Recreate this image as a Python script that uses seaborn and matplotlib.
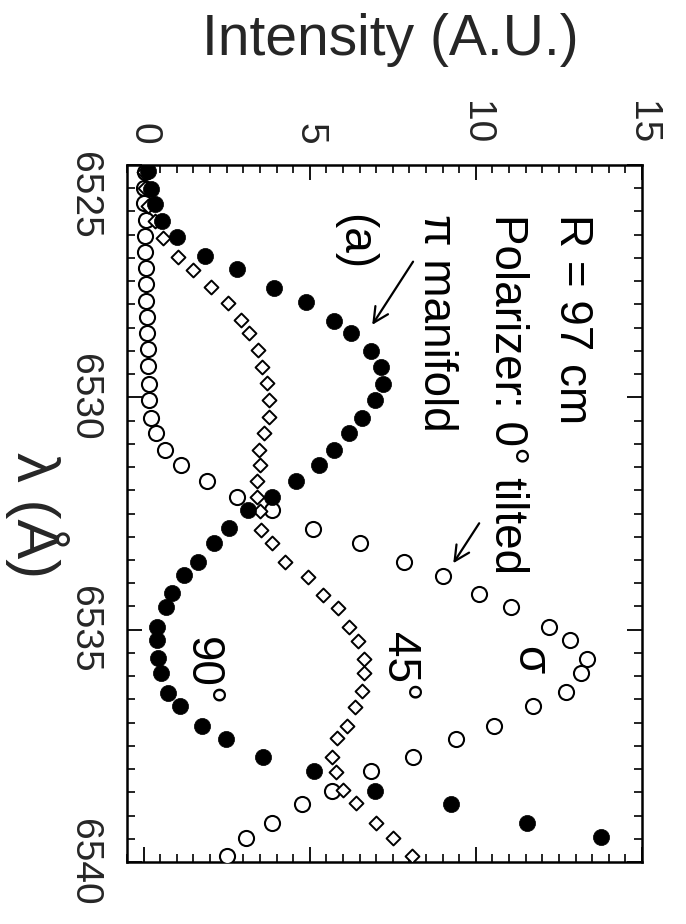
import numpy as np
import pandas as pd
import matplotlib
matplotlib.use("Agg")
import matplotlib.pyplot as plt
from matplotlib.ticker import MultipleLocator, FixedLocator
from matplotlib.transforms import ScaledTranslation
import seaborn as sns

# ---------------- data ----------------
# polarizer 0 deg (filled circles)
wl_0 = [6525.12, 6525.52, 6525.84, 6526.21, 6526.55, 6526.96, 6527.24, 6527.64,
        6527.95, 6528.36, 6528.62, 6529.01, 6529.34, 6529.72, 6530.06, 6530.44,
        6530.77, 6531.13, 6531.46, 6531.81, 6532.14, 6532.42, 6532.82, 6533.14,
        6533.54, 6533.83, 6534.22, 6534.51, 6534.94, 6535.22, 6535.62, 6535.94,
        6536.36, 6536.65, 6537.07, 6537.36, 6537.75, 6538.04, 6538.48, 6538.76,
        6539.17, 6539.47]
int_0 = [0.12, 0.23, 0.33, 0.56, 1.01, 1.85, 2.81, 3.93, 4.88, 5.73, 6.23, 6.85,
         7.13, 7.19, 6.96, 6.57, 6.18, 5.73, 5.28, 4.60, 3.87, 3.14, 2.58, 2.13,
         1.63, 1.23, 0.84, 0.67, 0.39, 0.40, 0.42, 0.51, 0.74, 1.11, 1.76, 2.49,
         3.60, 5.12, 6.96, 9.25, 11.55, 13.78]

# polarizer 90 deg (open circles)
wl_90 = [6525.14, 6525.50, 6525.82, 6526.18, 6526.53, 6526.88, 6527.22, 6527.57,
         6527.92, 6528.27, 6528.62, 6528.97, 6529.32, 6529.72, 6530.06, 6530.44,
         6530.77, 6531.13, 6531.46, 6531.81, 6532.14, 6532.43, 6532.83, 6533.14,
         6533.54, 6533.84, 6534.23, 6534.52, 6534.94, 6535.23, 6535.63, 6535.94,
         6536.35, 6536.65, 6537.07, 6537.35, 6537.74, 6538.05, 6538.47, 6538.75,
         6539.17, 6539.48, 6539.87]
int_90 = [0.05, 0.00, 0.02, 0.06, 0.05, 0.05, 0.06, 0.08, 0.08, 0.10, 0.10, 0.12,
          0.14, 0.17, 0.17, 0.23, 0.37, 0.64, 1.12, 1.91, 2.81, 3.87, 5.10, 6.52,
          7.84, 9.00, 10.08, 11.07, 12.19, 12.84, 13.34, 13.17, 12.72, 11.71,
          10.54, 9.39, 8.11, 6.85, 5.68, 4.78, 3.87, 3.08, 2.52]

# polarizer 45 deg (open diamonds)
wl_45 = [6525.14, 6525.50, 6525.88, 6526.20, 6526.58, 6526.97, 6527.26, 6527.62,
         6527.98, 6528.34, 6528.62, 6528.98, 6529.34, 6529.70, 6530.06, 6530.42,
         6530.76, 6531.13, 6531.46, 6531.81, 6532.14, 6532.45, 6532.85, 6533.14,
         6533.54, 6533.86, 6534.25, 6534.54, 6534.94, 6535.24, 6535.64, 6535.94,
         6536.33, 6536.66, 6537.07, 6537.34, 6537.73, 6538.06, 6538.46, 6538.74,
         6539.17, 6539.49, 6539.88]
int_45 = [0.02, 0.05, 0.13, 0.35, 0.58, 1.03, 1.48, 2.04, 2.55, 2.94, 3.17, 3.45,
          3.56, 3.70, 3.76, 3.78, 3.63, 3.48, 3.51, 3.40, 3.42, 3.50, 3.54, 3.87,
          4.27, 4.94, 5.39, 5.84, 6.17, 6.46, 6.63, 6.63, 6.57, 6.35, 6.13, 5.81,
          5.68, 5.79, 6.01, 6.40, 7.00, 7.52, 8.08]

intensity_ticks = [0, 5, 10, 15]
wavelength_ticks = [6525, 6530, 6535, 6540]

df0 = pd.DataFrame({"wl": wl_0, "I": int_0})
df90 = pd.DataFrame({"wl": wl_90, "I": int_90})
df45 = pd.DataFrame({"wl": wl_45, "I": int_45})

# ---------------- style ----------------
sns.set_theme(style="ticks")
plt.rcParams["font.family"] = ["Liberation Sans", "DejaVu Sans"]
plt.rcParams["axes.linewidth"] = 1.8

fig = plt.figure(figsize=(6.86, 9.24), dpi=100)
ax = fig.add_axes([127 / 686, 1 - 862 / 924, (642 - 127) / 686, (862 - 165) / 924])

# figure is drawn rotated: intensity horizontal, wavelength vertical (down)
sns.scatterplot(data=df90, x="I", y="wl", ax=ax, marker="o", s=118,
                facecolor="white", edgecolor="black", linewidth=1.5, zorder=3)
sns.scatterplot(data=df45, x="I", y="wl", ax=ax, marker="D", s=50,
                facecolor="white", edgecolor="black", linewidth=1.4, zorder=3)
sns.scatterplot(data=df0, x="I", y="wl", ax=ax, marker="o", s=135,
                color="black", edgecolor="black", linewidth=0.5, zorder=4)

ax.set_xlim(-0.5, 15)
ax.set_ylim(6540, 6525)

ax.xaxis.set_major_locator(FixedLocator(intensity_ticks))
ax.xaxis.set_minor_locator(MultipleLocator(0.5))
ax.yaxis.set_major_locator(FixedLocator(wavelength_ticks))
ax.yaxis.set_minor_locator(MultipleLocator(0.5))

ax.tick_params(which="both", direction="in", top=True, bottom=True,
               left=True, right=True, labeltop=True, labelbottom=False,
               labelleft=True, labelright=False, color="black")
ax.tick_params(which="major", length=11, width=1.3)
ax.tick_params(which="minor", length=5.5, width=1.2)
ax.tick_params(axis="x", which="major", pad=15, labelsize=28, labelrotation=-90)
ax.tick_params(axis="y", which="major", pad=18, labelsize=28, labelrotation=-90)

ax.set_xlabel("")
ax.set_ylabel("")

# axis titles
fig.text(390 / 686, 1 - 40 / 924, "Intensity (A.U.)", fontsize=41,
         ha="center", va="center")
fig.text(37 / 686, 1 - 515 / 924, "λ (Å)", fontsize=43, rotation=-90,
         ha="center", va="center")

# annotations
kw = dict(rotation=-90, ha="center", va="top", fontsize=33, color="black")
ax.text(12.9, 6526.05, "R = 97 cm", **kw)
ax.text(10.95, 6526.05, "Polarizer: 0° tilted", **kw)
ax.text(8.8, 6526.05, "π manifold", **kw)
ax.text(6.35, 6526.05, "(a)", **kw)
ax.text(7.7, 6535.05, "45°", **kw)
ax.text(1.75, 6535.15, "90°", **kw)
ax.text(11.6, 6535.35, "σ", **kw)

arrow = dict(arrowstyle="->,head_length=0.9,head_width=0.45", color="black", lw=1.6,
             shrinkA=0, shrinkB=0)
ax.annotate("", xy=(6.88, 6528.44), xytext=(8.11, 6527.08), arrowprops=arrow)
ax.annotate("", xy=(9.32, 6533.57), xytext=(10.1, 6532.71), arrowprops=arrow)

for sp in ax.spines.values():
    sp.set_color("black")
    sp.set_linewidth(1.8)

fig.canvas.draw()
for lab in ax.yaxis.get_majorticklabels():
    lab.set_va("center")
    lab.set_ha("right")
first = ax.yaxis.get_majorticklabels()[0]
first.set_transform(first.get_transform() + ScaledTranslation(0, -0.30, fig.dpi_scale_trans))

fig.savefig("out.png", dpi=100, facecolor="white")
